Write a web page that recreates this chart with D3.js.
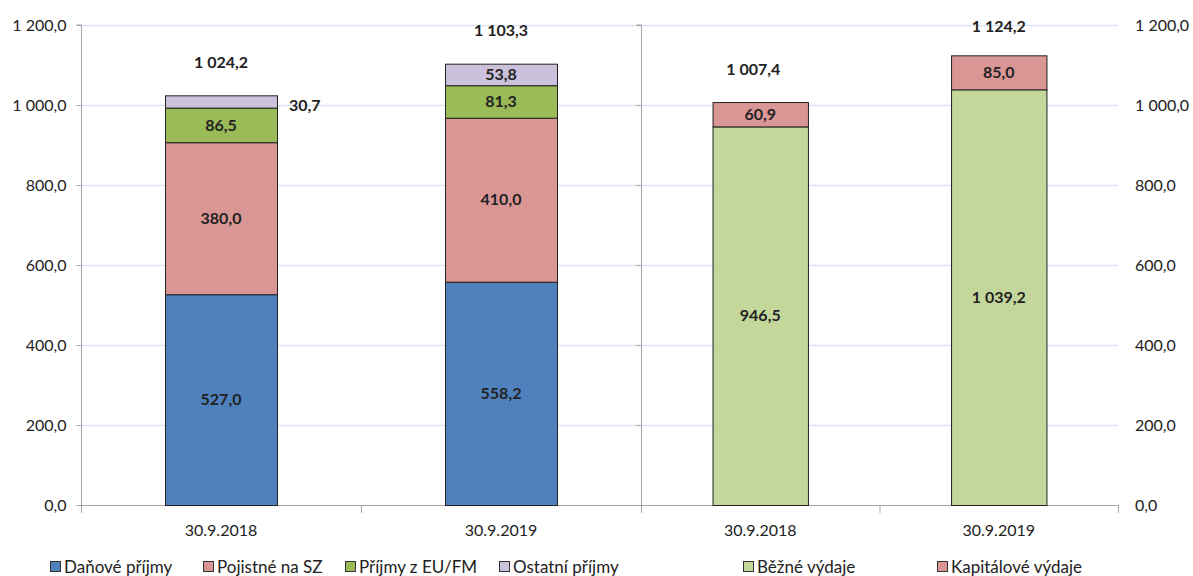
<!DOCTYPE html>
<html>
<head>
<meta charset="utf-8">
<script src="https://cdn.jsdelivr.net/npm/d3@7"></script>
<style>
  body { margin: 0; background: #fff; }
  #chart { width: 1193px; height: 576px; }
  text { font-family: Lato, "Open Sans", sans-serif; fill: #222; }
</style>
</head>
<body>
<div id="chart"></div>
<script>
// Data
const categories = ["30.9.2018", "30.9.2019"];
const revenueSeries = ["Daňové příjmy", "Pojistné na SZ", "Příjmy z EU/FM", "Ostatní příjmy"];
const danovePrijmy = [527.0, 558.2];
const pojistneSZ = [380.0, 410.0];
const prijmyEU = [86.5, 81.3];
const ostatniPrijmy = [30.7, 53.8];
const expenseSeries = ["Běžné výdaje", "Kapitálové výdaje"];
const bezneVydaje = [946.5, 1039.2];
const kapitaloveVydaje = [60.9, 85.0];
const yTicks = [0, 200, 400, 600, 800, 1000, 1200];

const revenueColors = ["#4f81bd", "#da9694", "#9bbb59", "#ccc1da"];
const expenseColors = ["#c4d79b", "#da9694"];

const width = 1193, height = 576;
const svg = d3.select("#chart").append("svg")
  .attr("width", width)
  .attr("height", height)
  .attr("viewBox", [0, 0, width, height]);

const locale = d3.formatLocale({ decimal: ",", thousands: " ", grouping: [3], currency: ["", ""] });
const fmt = locale.format(",.1f");

const plotLeft = 81, plotMid = 641, plotRight = 1118;
const y = d3.scaleLinear().domain([0, 1200]).range([505, 25]);

const xLeft = d3.scaleBand().domain(categories).range([plotLeft, plotMid]).paddingInner(0.6).paddingOuter(0.3);
const xRight = d3.scaleBand().domain(categories).range([plotMid, plotRight]).paddingInner(0.6).paddingOuter(0.3);

// gridlines
svg.append("g").selectAll("line").data(yTicks.filter(d => d > 0)).join("line")
  .attr("x1", plotLeft).attr("x2", plotRight)
  .attr("y1", d => y(d) + 0.5).attr("y2", d => y(d) + 0.5)
  .attr("stroke", "#dae3f3").attr("stroke-width", 1.5);

// left axis
const leftAxis = svg.append("g")
  .attr("transform", `translate(${plotLeft + 0.5},0)`)
  .call(d3.axisLeft(y).tickValues(yTicks).tickFormat(fmt).tickSize(5).tickPadding(10));
leftAxis.selectAll("path, line").attr("stroke", "#a6a6a6");
leftAxis.select(".domain").attr("d", `M-5,${y(1200)}H0V${y(0)}`);
leftAxis.selectAll("text").style("font-family", "Lato").style("font-size", "16px").attr("fill", "#333");

// middle axis (right chart's value axis, no labels)
const midAxis = svg.append("g")
  .attr("transform", `translate(${plotMid + 0.5},0)`)
  .call(d3.axisLeft(y).tickValues(yTicks).tickFormat("").tickSize(5));
midAxis.selectAll("path, line").attr("stroke", "#a6a6a6");
midAxis.select(".domain").attr("d", `M-5,${y(1200)}H0V${y(0) + 8}`);

// right axis labels
svg.append("g").selectAll("text").data(yTicks).join("text")
  .attr("x", 1135).attr("y", d => y(d)).attr("dy", "0.35em")
  .style("font-size", "16px").attr("fill", "#333")
  .text(fmt);

// bottom axis line and category ticks
svg.append("line")
  .attr("x1", plotLeft).attr("x2", plotRight)
  .attr("y1", y(0) + 0.5).attr("y2", y(0) + 0.5)
  .attr("stroke", "#a6a6a6");
const boundaries = [
  ...categories.map((c, i) => plotLeft + i * xLeft.step()),
  ...categories.map((c, i) => plotMid + i * xRight.step()),
  plotRight
];
svg.append("g").selectAll("line").data(boundaries).join("line")
  .attr("x1", d => d + 0.5).attr("x2", d => d + 0.5)
  .attr("y1", y(0)).attr("y2", y(0) + 8)
  .attr("stroke", "#a6a6a6");

// category labels
[xLeft, xRight].forEach(x => {
  svg.append("g").selectAll("text").data(categories).join("text")
    .attr("x", d => x(d) + x.bandwidth() / 2)
    .attr("y", 530).attr("dy", "0.35em")
    .attr("text-anchor", "middle")
    .style("font-size", "16px").attr("fill", "#333")
    .text(d => d);
});

function drawStack(x, seriesNames, seriesValues, colors, totalShift) {
  const rows = categories.map((c, i) => {
    const row = { cat: c };
    seriesNames.forEach((s, j) => row[s] = seriesValues[j][i]);
    return row;
  });
  const stacked = d3.stack().keys(seriesNames)(rows);
  const g = svg.append("g");
  stacked.forEach((layer, j) => {
    g.selectAll(null).data(layer).join("rect")
      .attr("x", d => x(d.data.cat) + 0.5)
      .attr("y", d => y(d[1]) + 0.5)
      .attr("width", x.bandwidth())
      .attr("height", d => y(d[0]) - y(d[1]))
      .attr("fill", colors[j])
      .attr("stroke", "#222")
      .attr("stroke-width", 1);
  });
  stacked.forEach(layer => {
    g.selectAll(null).data(layer).join("text")
      .each(function (d) {
        const h = y(d[0]) - y(d[1]);
        const t = d3.select(this);
        if (h < 16) {
          t.attr("x", x(d.data.cat) + x.bandwidth() + 12)
            .attr("y", (y(d[0]) + y(d[1])) / 2 + 4)
            .attr("text-anchor", "start");
        } else {
          t.attr("x", x(d.data.cat) + x.bandwidth() / 2)
            .attr("y", (y(d[0]) + y(d[1])) / 2)
            .attr("text-anchor", "middle");
        }
      })
      .attr("dy", "0.35em")
      .style("font-size", "16px").style("font-weight", "bold").attr("fill", "#111")
      .text(d => fmt(d[1] - d[0]));
  });
  // totals
  g.selectAll(null).data(rows).join("text")
    .attr("x", (d, i) => x(d.cat) + x.bandwidth() / 2 + (i === 0 ? totalShift : 0))
    .attr("y", d => Math.max(26, y(d3.sum(seriesNames, s => d[s])) - 33))
    .attr("dy", "0.35em")
    .attr("text-anchor", "middle")
    .style("font-size", "16px").style("font-weight", "bold").attr("fill", "#111")
    .text(d => fmt(d3.sum(seriesNames, s => d[s])));
}

drawStack(xLeft, revenueSeries, [danovePrijmy, pojistneSZ, prijmyEU, ostatniPrijmy], revenueColors, 0);
drawStack(xRight, expenseSeries, [bezneVydaje, kapitaloveVydaje], expenseColors, -7);

// legend
const legendItems = [
  ...revenueSeries.map((s, i) => ({ name: s, color: revenueColors[i] })),
  ...expenseSeries.map((s, i) => ({ name: s, color: expenseColors[i] }))
];
const legendX = [50, 203, 345, 499, 743, 937];
const legend = svg.append("g").selectAll("g").data(legendItems).join("g")
  .attr("transform", (d, i) => `translate(${legendX[i]},567)`);
legend.append("rect")
  .attr("x", 0.5).attr("y", -5.5).attr("width", 10).attr("height", 10)
  .attr("fill", d => d.color).attr("stroke", "#333");
legend.append("text")
  .attr("x", 14).attr("dy", "0.35em")
  .style("font-size", "17px").attr("fill", "#333")
  .text(d => d.name);
</script>
</body>
</html>
